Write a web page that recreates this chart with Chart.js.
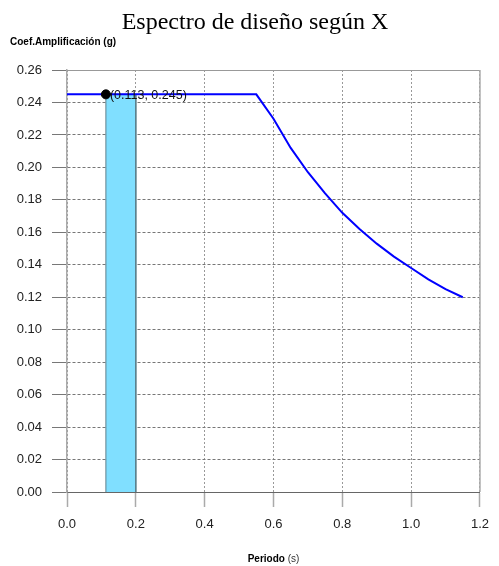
<!DOCTYPE html>
<html>
<head>
<meta charset="utf-8">
<script src="https://cdn.jsdelivr.net/npm/chart.js@4"></script>
<style>
  html, body { margin: 0; padding: 0; background: #fff; }
  #wrap { width: 499px; height: 566px; position: relative; }
</style>
</head>
<body>
<div id="wrap"><canvas id="c" width="499" height="566"></canvas></div>
<script>
const chartTitle = "Espectro de diseño según X";
const yAxisTitle = "Coef.Amplificación (g)";
const xAxisTitleBold = "Periodo";
const xAxisTitleUnit = " (s)";

const periods = [0, 0.05, 0.10, 0.15, 0.20, 0.25, 0.30, 0.35, 0.40, 0.45, 0.50, 0.55,
                 0.60, 0.65, 0.70, 0.75, 0.80, 0.85, 0.90, 0.95, 1.00, 1.05, 1.10, 1.15];
const amplification = [0.245, 0.245, 0.245, 0.245, 0.245, 0.245, 0.245, 0.245, 0.245, 0.245, 0.245, 0.245,
                       0.230, 0.212, 0.197, 0.184, 0.172, 0.162, 0.153, 0.145, 0.138, 0.131, 0.125, 0.120];

const bandPeriods = [0.113, 0.113, 0.200, 0.200];
const bandValues  = [0, 0.245, 0.245, 0];

const markedPoint = [0.113, 0.245];
const markedLabel = "(0.113, 0.245)";

const xMin = 0, xMax = 1.2, xStep = 0.2;
const yMin = 0, yMax = 0.26, yStep = 0.02;

const toXY = (xs, ys) => xs.map((x, i) => ({ x: x, y: ys[i] }));

const decorPlugin = {
  id: 'decor',
  afterDraw(chart) {
    const ctx = chart.ctx;
    const a = chart.chartArea;
    ctx.save();
    // top and right frame
    ctx.setLineDash([]);
    ctx.lineWidth = 1;
    ctx.strokeStyle = '#999';
    ctx.beginPath();
    ctx.moveTo(a.left, a.top + 0.5);
    ctx.lineTo(a.right, a.top + 0.5);
    ctx.stroke();
    ctx.strokeStyle = '#aaa';
    ctx.lineWidth = 1.5;
    ctx.beginPath();
    ctx.moveTo(a.right, a.top);
    ctx.lineTo(a.right, a.bottom);
    ctx.stroke();

    // main title
    ctx.fillStyle = '#000';
    ctx.font = '24px "Liberation Serif", "Times New Roman", serif';
    ctx.textAlign = 'center';
    ctx.textBaseline = 'alphabetic';
    ctx.fillText(chartTitle, 255, 29);

    // y axis title
    ctx.font = 'bold 10px "Liberation Sans", Arial, sans-serif';
    ctx.textAlign = 'left';
    ctx.fillText(yAxisTitle, 10, 45);

    // x axis title (bold + normal)
    ctx.font = 'bold 10px "Liberation Sans", Arial, sans-serif';
    const w1 = ctx.measureText(xAxisTitleBold).width;
    ctx.font = '10px "Liberation Sans", Arial, sans-serif';
    const w2 = ctx.measureText(xAxisTitleUnit).width;
    const cx = (a.left + a.right) / 2;
    const sx = cx - (w1 + w2) / 2;
    ctx.font = 'bold 10px "Liberation Sans", Arial, sans-serif';
    ctx.fillStyle = '#000';
    ctx.fillText(xAxisTitleBold, sx, 562);
    ctx.font = '10px "Liberation Sans", Arial, sans-serif';
    ctx.fillStyle = '#333';
    ctx.fillText(xAxisTitleUnit, sx + w1, 562);

    // marked point label
    const px = chart.scales.x.getPixelForValue(markedPoint[0]);
    const py = chart.scales.y.getPixelForValue(markedPoint[1]);
    ctx.font = '12.5px "Liberation Sans", Arial, sans-serif';
    ctx.fillStyle = '#111';
    ctx.textAlign = 'left';
    ctx.textBaseline = 'middle';
    ctx.fillText(markedLabel, px + 4, py + 1);
    ctx.restore();
  }
};

new Chart(document.getElementById('c'), {
  type: 'scatter',
  data: {
    datasets: [
      {
        label: 'point',
        data: [{ x: markedPoint[0], y: markedPoint[1] }],
        pointRadius: 4.5,
        pointBackgroundColor: '#000',
        pointBorderColor: '#000',
        showLine: false,
        clip: false
      },
      {
        label: 'espectro',
        data: toXY(periods, amplification),
        showLine: true,
        borderColor: '#0000ff',
        borderWidth: 2,
        pointRadius: 0,
        fill: false,
        tension: 0
      },
      {
        label: 'banda',
        data: toXY(bandPeriods, bandValues),
        showLine: true,
        borderColor: '#5a7f8c',
        borderWidth: 1,
        backgroundColor: '#80dfff',
        pointRadius: 0,
        fill: 'origin',
        tension: 0
      }
    ]
  },
  options: {
    responsive: false,
    animation: false,
    events: [],
    layout: { padding: { top: 70, right: 10, left: 0, bottom: 0 } },
    plugins: {
      legend: { display: false },
      title: { display: false },
      tooltip: { enabled: false }
    },
    scales: {
      x: {
        type: 'linear',
        min: xMin, max: xMax,
        afterFit(scale) { scale.height = 74; },
        ticks: {
          stepSize: xStep,
          padding: 10,
          color: '#222',
          font: { family: '"Liberation Sans", Arial, sans-serif', size: 13 },
          callback: v => Number(v).toFixed(1),
          maxRotation: 0
        },
        grid: {
          color: '#999',
          lineWidth: 1,
          tickLength: 15,
          tickColor: '#aaa',
          tickWidth: 1.5,
          tickBorderDash: []
        },
        border: { display: true, color: '#666', width: 1, dash: [2, 2] }
      },
      y: {
        type: 'linear',
        min: yMin, max: yMax,
        afterFit(scale) { scale.width = 67; },
        ticks: {
          stepSize: yStep,
          padding: 10,
          color: '#222',
          font: { family: '"Liberation Sans", Arial, sans-serif', size: 13 },
          callback: v => Number(v).toFixed(2)
        },
        grid: {
          color: '#777',
          lineWidth: 1,
          tickLength: 15,
          tickColor: '#777',
          tickWidth: 1,
          tickBorderDash: []
        },
        border: { display: true, color: '#aaa', width: 1.5, dash: [3, 2] }
      }
    }
  },
  plugins: [decorPlugin]
});
</script>
</body>
</html>
